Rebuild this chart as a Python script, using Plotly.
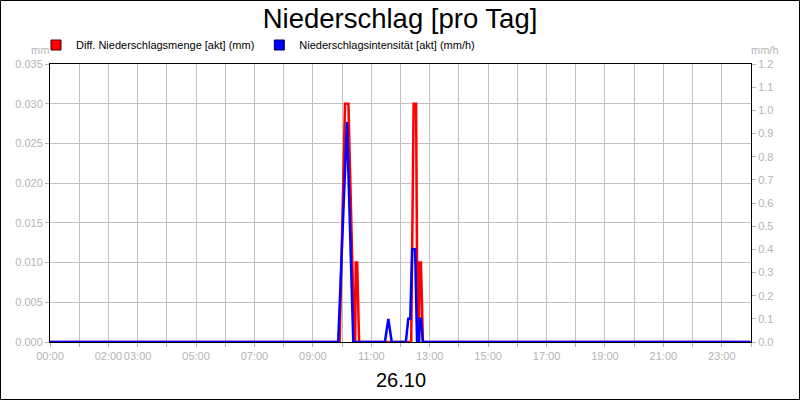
import plotly.graph_objects as go

# ----------------------------------------
# Daten (Tag 26.10, Uhrzeit -> Wert)
# ----------------------------------------
tag = "2023-10-26"

menge_zeit = ["00:00", "09:55", "10:06", "10:13", "10:25", "10:27", "10:28", "10:31", "10:35",
              "12:22", "12:27", "12:32", "12:35", "12:38", "12:39", "12:42", "12:46", "23:59"]
menge_mm = [0, 0, 0.03, 0.03, 0, 0, 0.01, 0.01, 0,
            0, 0.03, 0.03, 0, 0, 0.01, 0.01, 0, 0]

intens_zeit = ["00:00", "09:52", "10:10", "10:23", "11:28", "11:35", "11:42",
               "12:11", "12:16", "12:20", "12:24", "12:30", "12:34", "12:38", "12:39", "12:42", "12:46", "23:59"]
intens_mmh = [0, 0, 0.95, 0, 0, 0.1, 0,
              0, 0.1, 0.1, 0.4, 0.4, 0, 0, 0.1, 0.1, 0, 0]

tick_stunden = ["00:00", "02:00", "03:00", "05:00", "07:00", "09:00", "11:00",
                "13:00", "15:00", "17:00", "19:00", "21:00", "23:00"]

x_menge = [f"{tag} {t}" for t in menge_zeit]
x_intens = [f"{tag} {t}" for t in intens_zeit]
tickvals = [f"{tag} {t}" for t in tick_stunden]

grau = "#b4b4b4"
font = "Liberation Sans, Arial, sans-serif"

fig = go.Figure()

# Linien (blau unten, rot oben)
fig.add_trace(go.Scatter(x=x_intens, y=intens_mmh, yaxis="y2", mode="lines",
                         line=dict(color="#0000ff", width=2.5), showlegend=False))
fig.add_trace(go.Scatter(x=x_menge, y=menge_mm, mode="lines",
                         line=dict(color="#ff0000", width=2.5), showlegend=False))

# Legendeneintraege mit Quadraten
fig.add_trace(go.Scatter(x=[None], y=[None], mode="markers",
                         marker=dict(symbol="square", size=10, color="#ff0000",
                                     line=dict(color="#400000", width=1)),
                         name="Diff. Niederschlagsmenge [akt] (mm)"))
fig.add_trace(go.Scatter(x=[None], y=[None], mode="markers",
                         marker=dict(symbol="square", size=10, color="#0000ff",
                                     line=dict(color="#000040", width=1)),
                         name="Niederschlagsintensität [akt] (mm/h)"))

pw, ph = 701, 278

fig.update_layout(
    width=800, height=400,
    margin=dict(l=50, r=49, t=64, b=58, autoexpand=False),
    paper_bgcolor="white", plot_bgcolor="white",
    font=dict(family=font, size=11, color="black"),
    title=dict(text="Niederschlag [pro Tag]", x=0.5, xanchor="center",
               y=1 - 18 / 400, yanchor="middle",
               font=dict(size=27.5, color="black")),
    showlegend=True,
    legend=dict(orientation="h", x=-14 / pw, xanchor="left", y=1 + 19 / ph, yanchor="middle",
                itemwidth=30, font=dict(size=11, color="black"),
                bgcolor="rgba(0,0,0,0)", tracegroupgap=0),
    xaxis=dict(
        type="date", automargin=False,
        range=[f"{tag} 00:00", "2023-10-27 00:00"],
        tickvals=tickvals, ticktext=tick_stunden, tickangle=0,
        tickfont=dict(color=grau, size=11),
        ticks="outside", ticklen=4, tickcolor=grau,
        showgrid=True, gridcolor="#c0c0c0", gridwidth=1,
        minor=dict(dtick=3600000, showgrid=True, gridcolor="#c0c0c0",
                   ticks="outside", ticklen=4, tickcolor=grau),
        showline=True, linecolor="black", linewidth=1, mirror=True,
        zeroline=False,
    ),
    yaxis=dict(
        range=[0, 0.035], dtick=0.005, tickformat=".3f", automargin=False,
        tickfont=dict(color=grau, size=11),
        ticks="outside", ticklen=4, tickcolor=grau,
        showgrid=True, gridcolor="#c0c0c0", gridwidth=1,
        showline=True, linecolor="black", linewidth=1, mirror=True,
        zeroline=False,
    ),
    yaxis2=dict(
        range=[0, 1.2], dtick=0.1, tickformat=".1f", overlaying="y", side="right",
        automargin=False,
        tickfont=dict(color=grau, size=11),
        ticks="outside", ticklen=4, tickcolor=grau,
        showgrid=False, showline=True, linecolor="black", linewidth=1,
        zeroline=False,
    ),
)

# Einheiten und Datum
fig.add_annotation(text="mm", x=-10 / pw, y=1 + 14 / ph, xref="paper", yref="paper",
                   xanchor="center", yanchor="middle",
                   showarrow=False, font=dict(size=11, color=grau))
fig.add_annotation(text="mm/h", x=1 + 14 / pw, y=1 + 14 / ph, xref="paper", yref="paper",
                   xanchor="center", yanchor="middle",
                   showarrow=False, font=dict(size=11, color=grau))
fig.add_annotation(text="26.10", x=0.5, y=-38 / ph, xref="paper", yref="paper",
                   xanchor="center", yanchor="middle",
                   showarrow=False, font=dict(size=20, color="black"))

# Rahmen um das ganze Bild
fig.add_shape(type="rect", xref="paper", yref="paper",
              x0=-49.5 / pw, x1=(799.5 - 50) / pw, y0=-57.5 / ph, y1=1 + 63.5 / ph,
              line=dict(color="black", width=1))

# Seitenrand des Browsers entfernen, damit das Bild bei 0,0 beginnt
fig.write_html("out.html", config={"displayModeBar": False},
               post_script="document.body.style.margin='0px';")
